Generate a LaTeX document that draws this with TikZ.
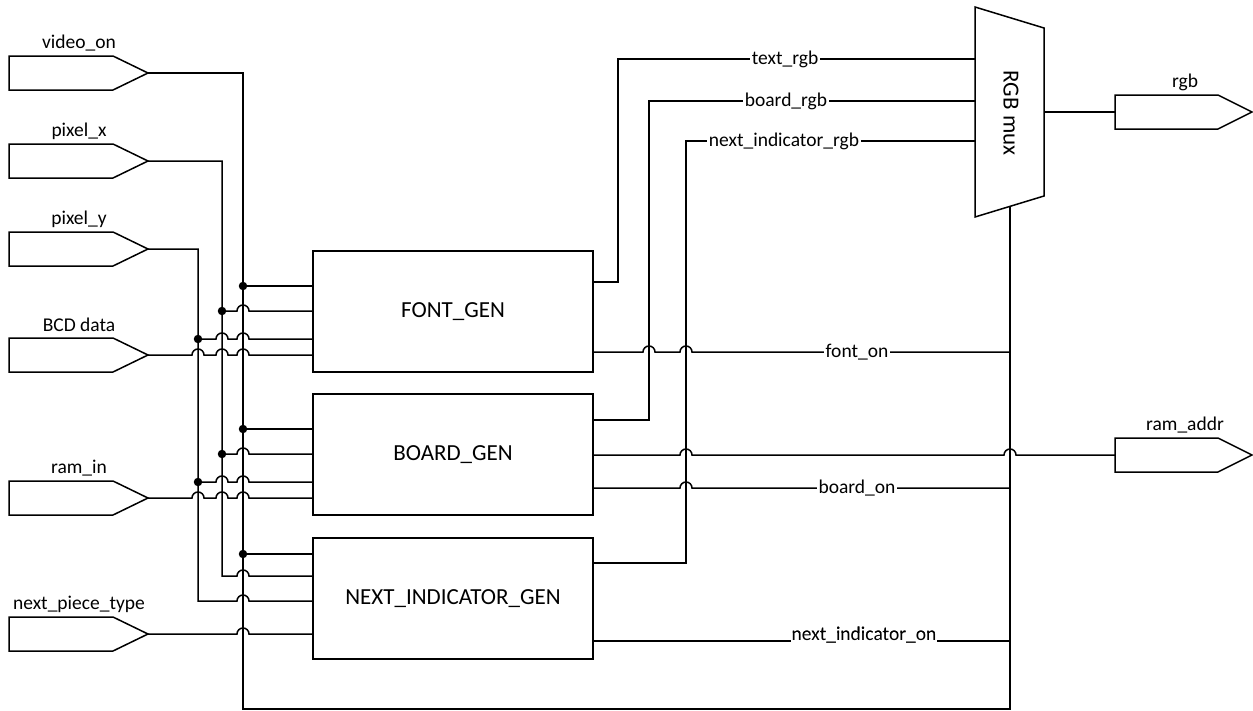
\documentclass[tikz,border=0pt]{standalone}
\usepackage{fontspec}
\setmainfont{Carlito}
\begin{document}
\begin{tikzpicture}[x=1pt,y=-1pt,
  wire/.style={line width=1.5pt,line join=miter},
  lbl/.style={font=\fontsize{19.5}{22}\selectfont,inner sep=1pt},
  onlbl/.style={lbl,fill=white,inner sep=1.5pt},
  blk/.style={draw,line width=1.5pt,minimum width=280pt,minimum height=121pt,inner sep=0pt,font=\fontsize{23}{26}\selectfont},
  dot/.style={circle,fill=black,inner sep=0pt,minimum size=8.5pt}]
\useasboundingbox (0,0) rectangle (1253,710);
\def\hopat#1#2{-- ({#1-6},#2) arc[start angle=180,end angle=0,radius=6pt]}
% input pins
\foreach \nm/\yy/\tx in {vid/73/video\_on, px/161/pixel\_x, py/249/pixel\_y, bcd/355/BCD data, ram/498/ram\_in, npt/634/next\_piece\_type}{
  \draw[wire] (9,\yy-17) -- (113,\yy-17) -- (148,\yy) -- (113,\yy+17) -- (9,\yy+17) -- cycle;
  \coordinate (\nm) at (148,\yy);
  \node[lbl] (\nm-l) at (79,\yy-30) {\tx};
}
% output pins
\foreach \nm/\yy/\tx in {rgb/112/rgb, raddr/455/ram\_addr}{
  \draw[wire] (1252,\yy) -- (1218,\yy-17) -- (1115,\yy-17) -- (1115,\yy+17) -- (1218,\yy+17) -- cycle;
  \coordinate (\nm) at (1115,\yy);
  \node[lbl] (\nm-l) at (1185,\yy-30) {\tx};
}
% blocks
\node[blk] (font) at (453,311.5) {FONT\_GEN};
\node[blk] (board) at (453,454.5) {BOARD\_GEN};
\node[blk] (next) at (453,598.5) {NEXT\_INDICATOR\_GEN};
% mux
\draw[wire] (975,7) -- (1044,28) -- (1044,196) -- (975,217) -- cycle;
\node[lbl,rotate=-90,font=\fontsize{23}{26}\selectfont] (mux) at (1011,113) {RGB mux};
\coordinate (muxsel) at (1010,206.5);
\coordinate (muxout) at (1044,112);
% video_on
\draw[wire] (vid) -- (243,73) -- (243,709) -- (1010,709) -- (muxsel);
\draw[wire] (243,286) -- (font.west |- 0,286);
\draw[wire] (243,429) -- (board.west |- 0,429);
\draw[wire] (243,554) -- (next.west |- 0,554);
\node[dot] (d1) at (243,286) {};
\node[dot] (d2) at (243,429) {};
\node[dot] (d3) at (243,554) {};
% pixel_x
\draw[wire] (px) -- (222,161) -- (222,576) \hopat{243}{576} -- (next.west |- 0,576);
\draw[wire] (222,311) \hopat{243}{311} -- (font.west |- 0,311);
\draw[wire] (222,454) \hopat{243}{454} -- (board.west |- 0,454);
\node[dot] (d4) at (222,311) {};
\node[dot] (d5) at (222,454) {};
% pixel_y
\draw[wire] (py) -- (198,249) -- (198,601) \hopat{243}{601} -- (next.west |- 0,601);
\draw[wire] (198,339) \hopat{222}{339} \hopat{243}{339} -- (font.west |- 0,339);
\draw[wire] (198,482) \hopat{222}{482} \hopat{243}{482} -- (board.west |- 0,482);
\node[dot] (d6) at (198,339) {};
\node[dot] (d7) at (198,482) {};
% BCD, ram_in, next_piece_type
\draw[wire] (bcd) \hopat{198}{355} \hopat{222}{355} \hopat{243}{355} -- (font.west |- 0,355);
\draw[wire] (ram) \hopat{198}{498} \hopat{222}{498} \hopat{243}{498} -- (board.west |- 0,498);
\draw[wire] (npt) \hopat{243}{634} -- (next.west |- 0,634);
% rgb outputs
\draw[wire] (font.east |- 0,282) -- (618,282) -- (618,59) -- (975,59);
\draw[wire] (board.east |- 0,420) -- (649,420) -- (649,101) -- (975,101);
\draw[wire] (next.east |- 0,563) -- (686,563) -- (686,141) -- (975,141);
\node[onlbl] (l1) at (785,59) {text\_rgb};
\node[onlbl] (l2) at (786,101) {board\_rgb};
\node[onlbl] (l3) at (784,141) {next\_indicator\_rgb};
% on signals
\draw[wire] (font.east |- 0,352) \hopat{649}{352} \hopat{686}{352} -- (1010,352);
\draw[wire] (board.east |- 0,488) \hopat{686}{488} -- (1010,488);
\draw[wire] (next.east |- 0,641) -- (1010,641);
\node[onlbl] (l4) at (857,352) {font\_on};
\node[onlbl] (l5) at (857,488) {board\_on};
\node[onlbl,fill=none] (l6) at (864,635) {next\_indicator\_on};
\fill[white] (l6.south west) ++(1,-3) rectangle ([xshift=-1pt,yshift=-8pt]l6.north east);
\node[lbl] at (864,635) {next\_indicator\_on};
% ram_addr
\draw[wire] (board.east |- 0,455) \hopat{686}{455} \hopat{1010}{455} -- (raddr);
% mux output
\draw[wire] (muxout) -- (rgb);
\end{tikzpicture}
\end{document}
